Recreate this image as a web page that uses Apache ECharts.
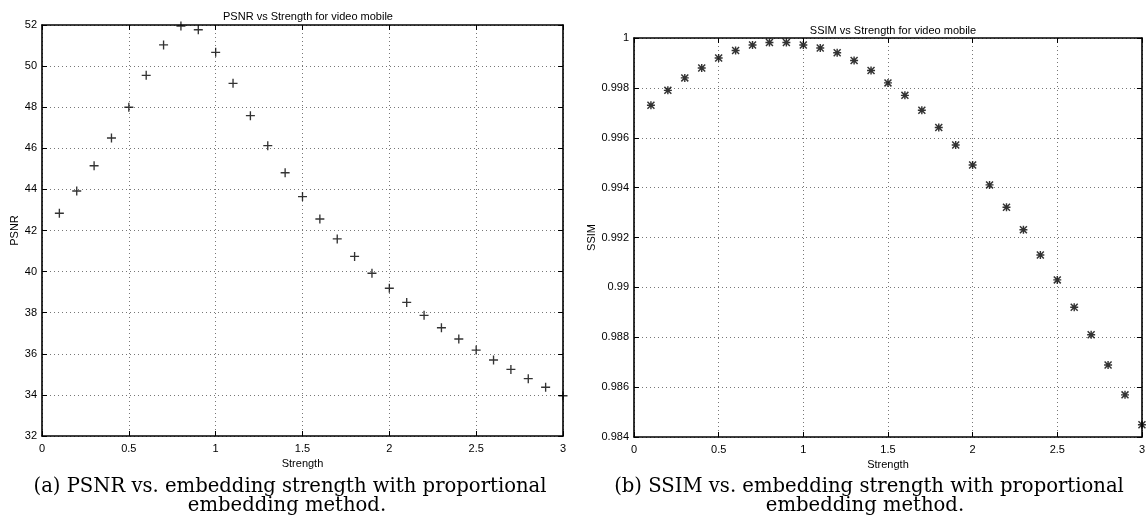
<!DOCTYPE html>
<html><head><meta charset="utf-8">
<script src="https://cdn.jsdelivr.net/npm/echarts@6/dist/echarts.min.js"></script>
<style>html,body{margin:0;padding:0;background:#fff}#c{width:1148px;height:527px}</style>
</head><body><div id="c"></div>
<script>
const strength = [0.1,0.2,0.3,0.4,0.5,0.6,0.7,0.8,0.9,1.0,1.1,1.2,1.3,1.4,1.5,1.6,1.7,1.8,1.9,2.0,2.1,2.2,2.3,2.4,2.5,2.6,2.7,2.8,2.9,3.0];
const psnr = [42.84,43.92,45.15,46.5,48.0,49.55,51.03,51.95,51.77,50.67,49.16,47.59,46.13,44.81,43.65,42.56,41.59,40.74,39.92,39.19,38.5,37.87,37.27,36.72,36.18,35.70,35.24,34.79,34.37,33.96];
const ssim = [0.9973,0.9979,0.9984,0.9988,0.9992,0.9995,0.99972,0.99982,0.99982,0.99972,0.9996,0.99941,0.9991,0.9987,0.9982,0.9977,0.9971,0.99641,0.99571,0.99491,0.99411,0.99321,0.99231,0.9913,0.9903,0.9892,0.9881,0.98689,0.98569,0.98449];
const titles = ['PSNR vs Strength for video mobile','SSIM vs Strength for video mobile'];
const yNames = ['PSNR','SSIM'];
const xName = 'Strength';
const captionA = ['(a) PSNR vs. embedding strength with proportional','embedding method.'];
const captionB = ['(b) SSIM vs. embedding strength with proportional','embedding method.'];

const PLUS = 'path://M0,4.25H10V5.75H0Z M4.25,0H5.75V10H4.25Z';
const STAR = 'path://M0,4.1H10V5.9H0Z M4.1,0H5.9V10H4.1Z M0,1.3L1.3,0L10,8.7L8.7,10Z M8.7,0L10,1.3L1.3,10L0,8.7Z';

const sans = 'Liberation Sans';
const lbl = {color:'#000', fontFamily:sans, fontSize:11};
const split = {show:true, lineStyle:{color:'#777', type:[1,3], width:1}};
const axLine = {show:true, onZero:false, lineStyle:{color:'#000', width:1.6}};
const tick = {show:true, inside:true, length:5, lineStyle:{color:'#000', width:1}};

function xAxes(gi){
  return [
    {gridIndex:gi, type:'value', min:0, max:3, interval:0.5, position:'bottom',
     axisLine:axLine, axisTick:tick, axisLabel:Object.assign({margin:7}, lbl), splitLine:split,
     name:xName, nameLocation:'middle', nameGap:20, nameTextStyle:lbl},
    {gridIndex:gi, type:'value', min:0, max:3, interval:0.5, position:'top',
     axisLine:axLine, axisTick:tick, axisLabel:{show:false}, splitLine:{show:false}}
  ];
}
function yAxes(gi, min, max, interval, gap){
  return [
    {gridIndex:gi, type:'value', min:min, max:max, interval:interval, position:'left',
     axisLine:axLine, axisTick:tick, axisLabel:Object.assign({margin:5}, lbl), splitLine:split,
     name:yNames[gi], nameLocation:'middle', nameGap:gap, nameTextStyle:lbl},
    {gridIndex:gi, type:'value', min:min, max:max, interval:interval, position:'right',
     axisLine:axLine, axisTick:tick, axisLabel:{show:false}, splitLine:{show:false}}
  ];
}

const chart = echarts.init(document.getElementById('c'), null, {renderer:'canvas'});
const serif = 'DejaVu Serif';
const capStyle = {fill:'#000', fontFamily:serif, fontSize:19.6, textAlign:'center', textVerticalAlign:'middle'};
chart.setOption({
  animation:false,
  backgroundColor:'#fff',
  title:[
    {text:titles[0], left:303, top:6, textAlign:'center', textStyle:{fontFamily:sans, fontSize:11, fontWeight:'normal', color:'#000'}},
    {text:titles[1], left:888, top:20, textAlign:'center', textStyle:{fontFamily:sans, fontSize:11, fontWeight:'normal', color:'#000'}}
  ],
  grid:[
    {left:42, right:585, top:25, bottom:91},
    {left:634, right:6, top:38, bottom:90}
  ],
  xAxis:[...xAxes(0), ...xAxes(1)],
  yAxis:[...yAxes(0, 32, 52, 2, 20), ...yAxes(1, 0.984, 1, 0.002, 36)],
  series:[
    {type:'scatter', xAxisIndex:0, yAxisIndex:0, symbol:PLUS, symbolSize:9, clip:false,
     itemStyle:{color:'#000'}, data:strength.map((s,i)=>[s, psnr[i]])},
    {type:'scatter', xAxisIndex:2, yAxisIndex:2, symbol:STAR, symbolSize:8, clip:false,
     itemStyle:{color:'#000'}, data:strength.map((s,i)=>[s, ssim[i]])}
  ],
  graphic:[
    {type:'text', x:290, y:487, style:Object.assign({text:captionA[0]}, capStyle)},
    {type:'text', x:287, y:506, style:Object.assign({text:captionA[1]}, capStyle)},
    {type:'text', x:869, y:487, style:Object.assign({text:captionB[0]}, capStyle)},
    {type:'text', x:865, y:506, style:Object.assign({text:captionB[1]}, capStyle)}
  ]
});
</script></body></html>
